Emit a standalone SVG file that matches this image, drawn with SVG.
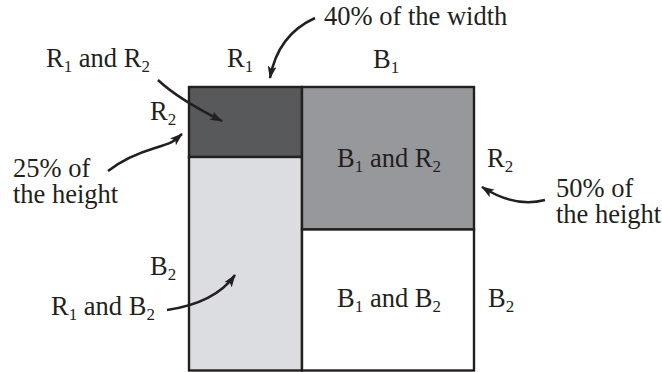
<svg xmlns="http://www.w3.org/2000/svg" width="662" height="372" viewBox="0 0 662 372">
<style>
text{font-family:'Liberation Serif','Times New Roman',serif;font-size:26.5px;fill:#231f20}
.s{font-size:17px}
.c{stroke:#231f20;stroke-width:2.5;fill:none}
.r{stroke:#231f20;stroke-width:2.4}
</style>
<defs>
<marker id="ah" viewBox="0 0 13 9" refX="12" refY="4.5" markerWidth="13" markerHeight="9" markerUnits="userSpaceOnUse" orient="auto">
<path d="M0,0 L13,4.5 L0,9 L3,4.5 Z" fill="#231f20"/>
</marker>
</defs>
<rect width="662" height="372" fill="#fff"/>
<g id="r1r2"><rect class="r" x="189" y="87" width="113" height="70" fill="#58595b"/></g>
<g id="r1b2"><rect class="r" x="189" y="157" width="113" height="213.5" fill="#dcdde0"/></g>
<g id="b1r2"><rect class="r" x="302" y="87" width="172" height="142.5" fill="#97989b"/>
<text x="389" y="167" text-anchor="middle">B<tspan class="s" dy="5">1</tspan><tspan dy="-5"> and R</tspan><tspan class="s" dy="5">2</tspan></text></g>
<g id="b1b2"><rect class="r" x="302" y="229.5" width="172" height="141" fill="#fff"/>
<text x="389" y="307" text-anchor="middle">B<tspan class="s" dy="5">1</tspan><tspan dy="-5"> and B</tspan><tspan class="s" dy="5">2</tspan></text></g>
<g id="labels">
<text x="324" y="25">40% of the width</text>
<text x="46" y="67">R<tspan class="s" dy="5">1</tspan><tspan dy="-5"> and R</tspan><tspan class="s" dy="5">2</tspan></text>
<text x="227" y="67">R<tspan class="s" dy="5">1</tspan></text>
<text x="373" y="68">B<tspan class="s" dy="5">1</tspan></text>
<text x="150" y="120">R<tspan class="s" dy="5">2</tspan></text>
<text x="13" y="177">25% of</text>
<text x="13" y="203">the height</text>
<text x="487" y="167">R<tspan class="s" dy="5">2</tspan></text>
<text x="556" y="197">50% of</text>
<text x="556" y="223">the height</text>
<text x="150" y="275">B<tspan class="s" dy="5">2</tspan></text>
<text x="51" y="315">R<tspan class="s" dy="5">1</tspan><tspan dy="-5"> and B</tspan><tspan class="s" dy="5">2</tspan></text>
<text x="488" y="307">B<tspan class="s" dy="5">2</tspan></text>
</g>
<g id="connectors">
<path class="c" marker-end="url(#ah)" d="M315,18 C295,27 276,45 270,78"/>
<path class="c" marker-end="url(#ah)" d="M158,80 Q178,99 222,121"/>
<path class="c" marker-end="url(#ah)" d="M108,171 C122,160 135,154 155,148 S174,141 182,134"/>
<path class="c" marker-end="url(#ah)" d="M545,200 Q515,208 482,187"/>
<path class="c" marker-end="url(#ah)" d="M167,310 Q215,303 235,275"/>
</g>
</svg>
